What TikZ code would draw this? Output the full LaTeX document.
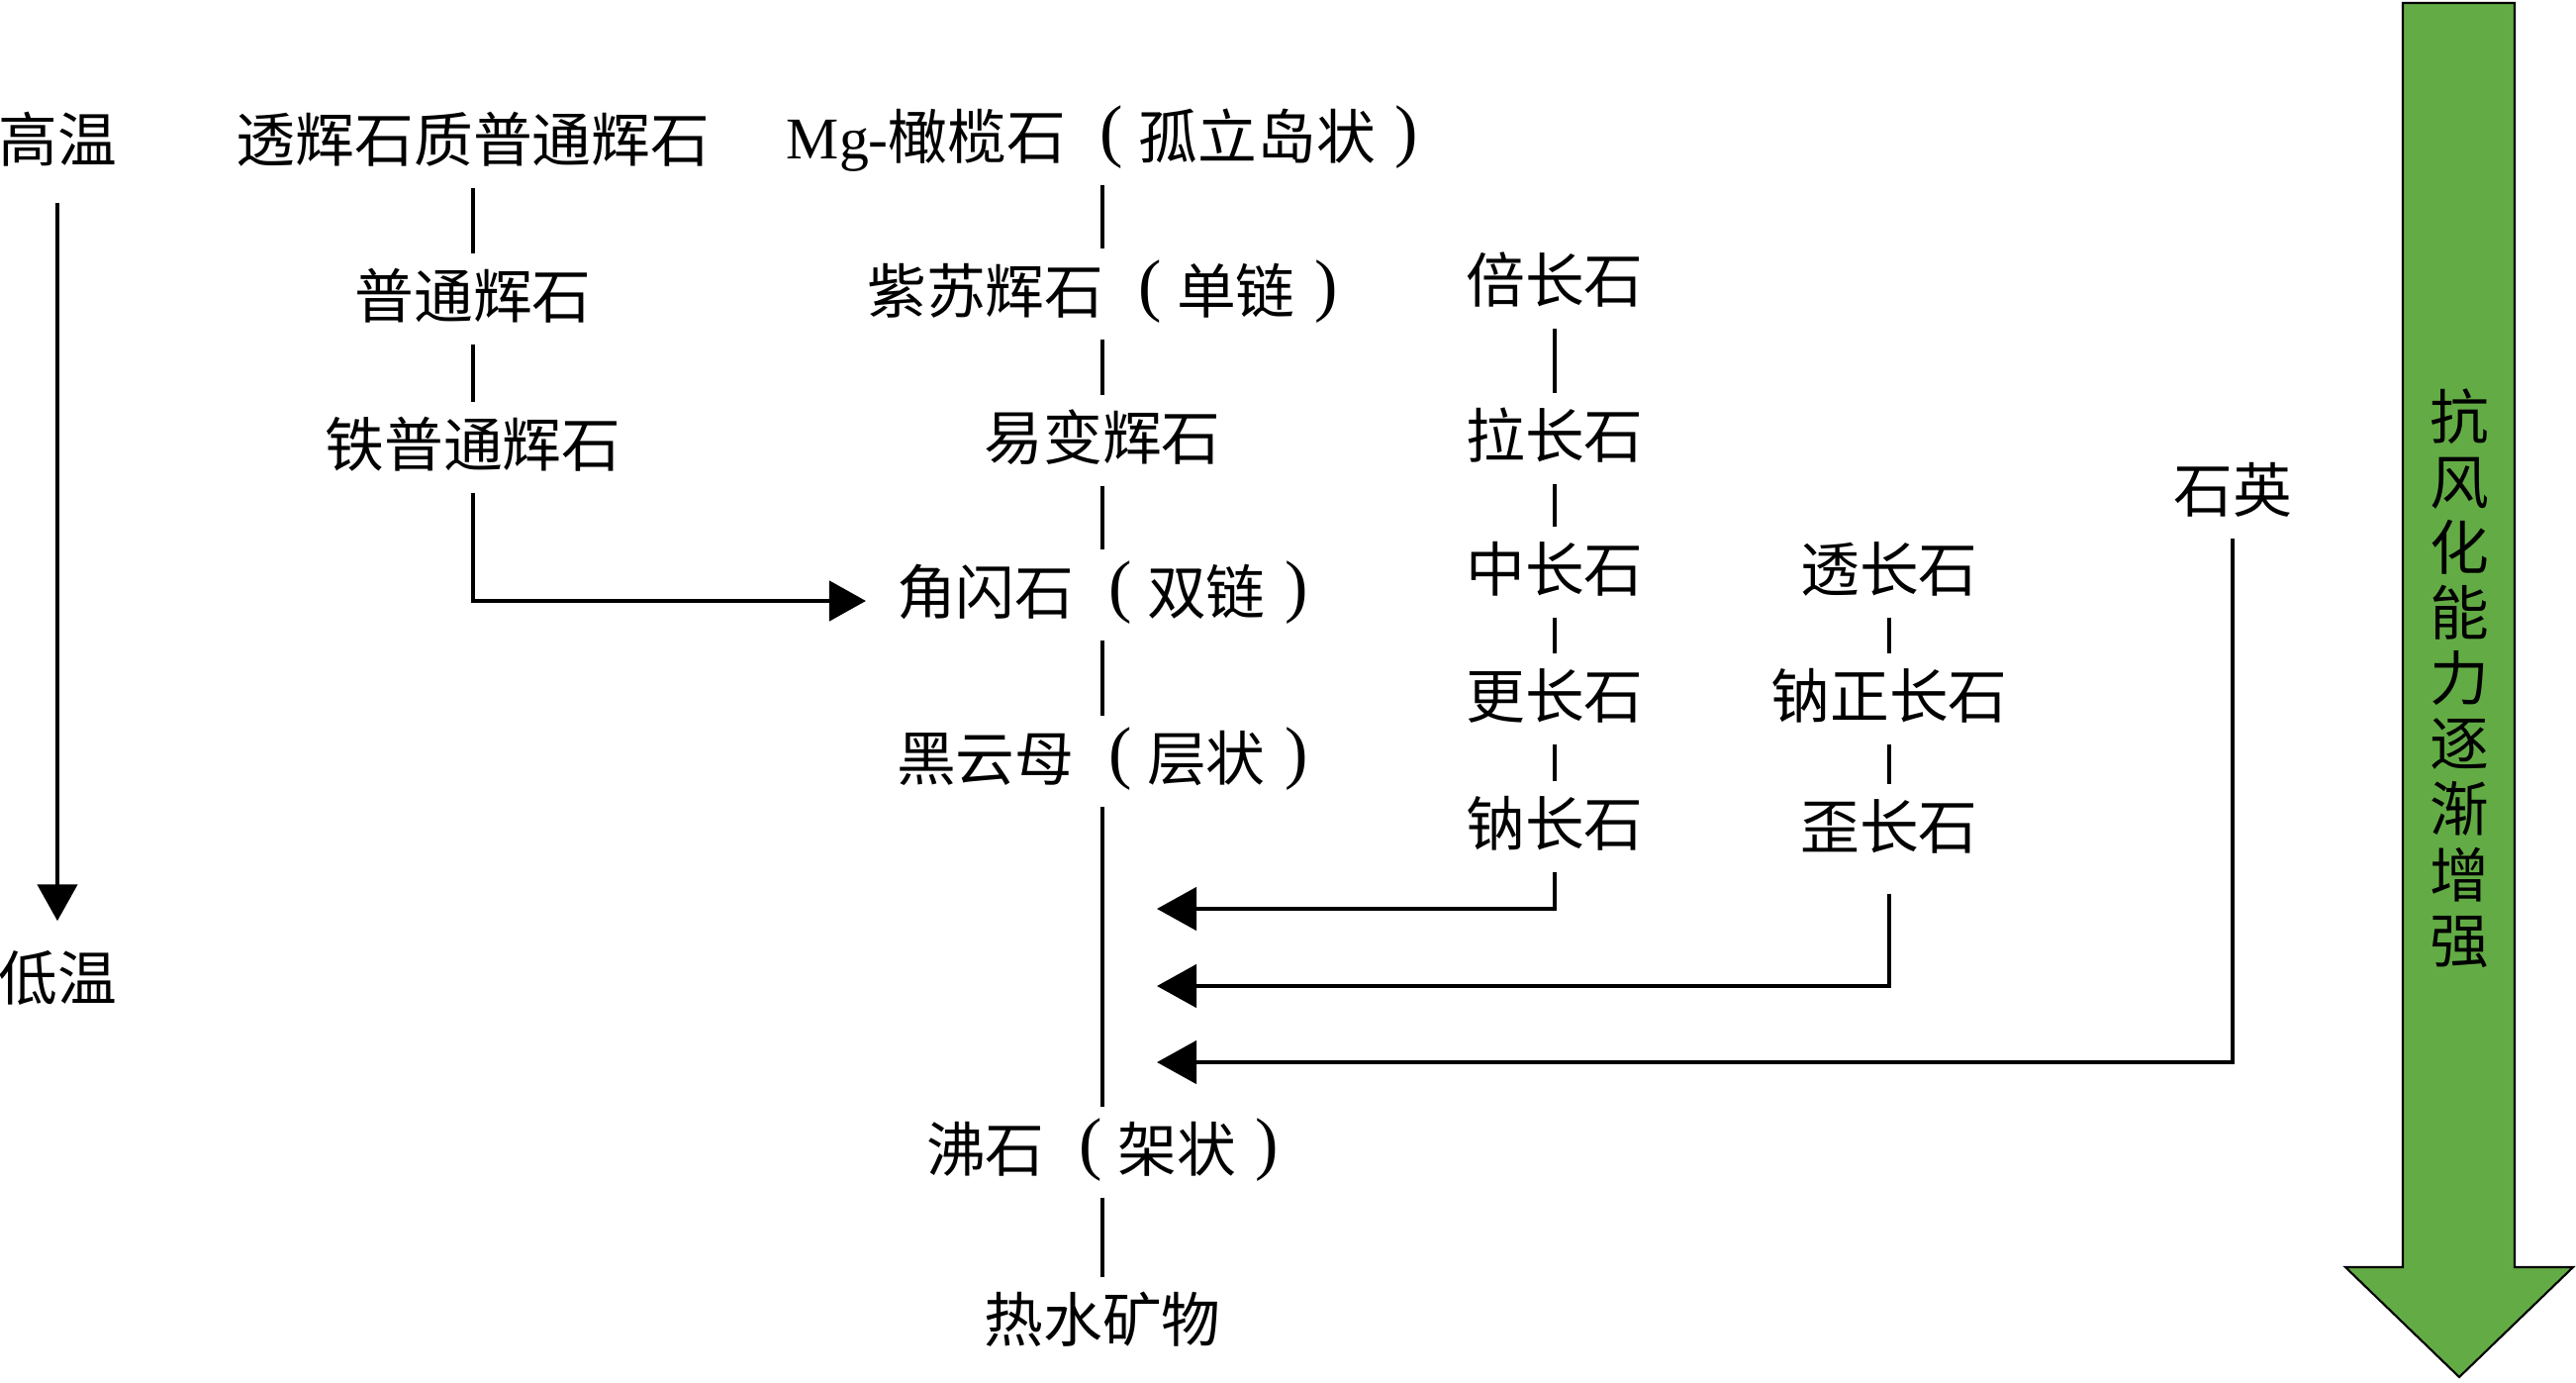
\documentclass[tikz,border=0pt]{standalone}
\usepackage{fontspec}
\setmainfont{Noto Sans CJK SC}
\newfontfamily\latinserif{Liberation Serif}
\usetikzlibrary{arrows.meta}
\definecolor{arrowgreen}{RGB}{99,172,69}
\newcommand{\parglyph}[1]{\raisebox{1.4pt}{\latinserif\fontsize{20pt}{20pt}\selectfont #1}}
\newcommand{\mylp}{\hspace{0.58em}\parglyph{(}\hspace{0.26em}}
\newcommand{\myrp}{\hspace{0.33em}\parglyph{)}}
\begin{document}
\begin{tikzpicture}[x=0.01cm,y=-0.01cm,
  lbl/.style={font=\fontsize{17pt}{20pt}\selectfont, inner sep=0pt, text height=1.13em, text depth=0em, minimum height=0.9cm},
  templbl/.style={lbl, minimum height=1.2cm},
  conn/.style={line width=1.35pt},
  arr/.style={line width=1.35pt, -{Triangle[length=0.4cm,width=0.43cm]}},
  arrs/.style={line width=1.35pt, -{Triangle[length=0.37cm,width=0.4cm]}},
  bigarrow/.style={fill=arrowgreen, draw=black, line width=0.6pt, line join=miter},
  vtext/.style={font=\fontsize{17pt}{18.8pt}\selectfont, align=center, inner sep=0pt}
]
\useasboundingbox (0,0) rectangle (2603,1396);

% temperature axis
\node[templbl] (hi) at (58,144) {高温};
\node[templbl] (lo) at (58,991) {低温};
\draw[arrs] (hi) -- (lo);

% pyroxene column
\node[lbl] (diop) at (478,144) {透辉石质普通辉石};
\node[lbl] (aug) at (478,302) {普通辉石};
\node[lbl] (feaug) at (478,452) {铁普通辉石};
\draw[conn] (diop) -- (aug);
\draw[conn] (aug) -- (feaug);
\coordinate (hbtip) at (875,607);
\draw[arrs] (feaug.south) |- (hbtip);

% main (discontinuous) series
\node[lbl] (ol) at (1114,141) {{\latinserif Mg-}橄榄石\mylp 孤立岛状\myrp};
\node[lbl] (hyp) at (1114,297) {紫苏辉石\mylp 单链\myrp};
\node[lbl] (pig) at (1114,445) {易变辉石};
\node[lbl] (hbl) at (1114,601) {角闪石\mylp 双链\myrp};
\node[lbl] (bio) at (1114,769) {黑云母\mylp 层状\myrp};
\node[lbl] (zeo) at (1114,1164) {沸石\mylp 架状\myrp};
\node[lbl] (hyd) at (1114,1336) {热水矿物};
\draw[conn] (ol) -- (hyp);
\draw[conn] (hyp) -- (pig);
\draw[conn] (pig) -- (hbl);
\draw[conn] (hbl) -- (bio);
\draw[conn] (bio) -- (zeo);
\draw[conn] (zeo) -- (hyd);

% plagioclase series
\node[lbl] (byt) at (1571,286) {倍长石};
\node[lbl] (lab) at (1571,443) {拉长石};
\node[lbl] (ande) at (1571,578) {中长石};
\node[lbl] (olig) at (1571,706) {更长石};
\node[lbl] (alb) at (1571,835) {钠长石};
\draw[conn] (byt) -- (lab);
\draw[conn] (lab) -- (ande);
\draw[conn] (ande) -- (olig);
\draw[conn] (olig) -- (alb);

% alkali feldspar series
\node[lbl] (san) at (1909,578) {透长石};
\node[lbl] (nao) at (1909,706) {钠正长石};
\node[lbl] (ano) at (1909,838) {歪长石};
\draw[conn] (san) -- (nao);
\draw[conn] (nao) -- (ano);

% quartz
\node[lbl] (qz) at (2256,498) {石英};

% arrows into the main line
\coordinate (t1) at (1169,918);
\coordinate (t2) at (1169,996);
\coordinate (t3) at (1169,1073);
\draw[arr] (alb.south) |- (t1);
\draw[arr, shorten <=0.19cm] (ano.south) |- (t2);
\draw[arr] (qz.south) |- (t3);

% weathering resistance arrow
\draw[bigarrow] (2428,3) -- (2541,3) -- (2541,1280) -- (2600,1280) -- (2485,1391) -- (2370,1280) -- (2428,1280) -- cycle;
\node[vtext] (wr) at (2485,685) {抗\\风\\化\\能\\力\\逐\\渐\\增\\强};
\end{tikzpicture}
\end{document}
